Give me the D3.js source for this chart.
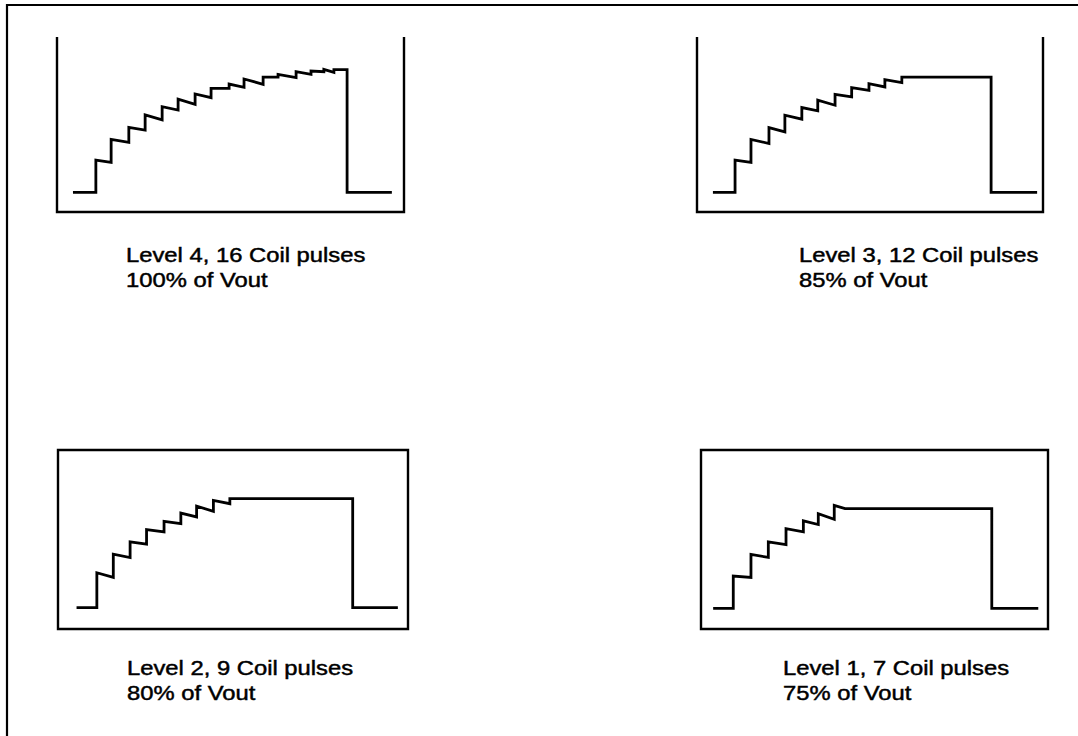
<!DOCTYPE html>
<html>
<head>
<meta charset="utf-8">
<script src="https://cdn.jsdelivr.net/npm/d3@7"></script>
<style>
  html, body { margin: 0; padding: 0; background: #fff; }
  svg { display: block; }
</style>
</head>
<body>
<div id="chart"></div>
<script>
// time axis: 0..100 across each scope frame; voltage: % of the level 4 plateau
const labels = [
  ['Level 4, 16 Coil pulses', '100% of Vout'],
  ['Level 3, 12 Coil pulses', '85% of Vout'],
  ['Level 2, 9 Coil pulses', '80% of Vout'],
  ['Level 1, 7 Coil pulses', '75% of Vout']
];

// level 4
const l4Times = [11.2, 15.6, 20.7, 25.4, 30.3, 34.9, 39.8, 44.4, 49.6, 53.9, 59.4, 63.7, 68.9, 73.2, 76.9, 79.8];
const l4Peaks = [26.3, 43.2, 53.0, 63.1, 69.8, 75.9, 80.2, 84.8, 88.3, 92.4, 94.0, 96.2, 98.4, 98.9, 100.3, 100];
const l4Troughs = [24.5, 40.8, 50.8, 59.0, 67.1, 71.8, 77.2, 84.8, 85.6, 88.1, 94.0, 93.5, 96.2, 98.4, 97.9, 100];
const l4Edges = [4.6, 83.6, 96.5];   // start, fall, end

// level 3
const l3Times = [11.0, 15.6, 20.8, 25.4, 30.3, 34.9, 39.9, 44.7, 49.7, 54.3, 59.2];
const l3Peaks = [26.3, 43.1, 52.8, 62.9, 69.1, 75.1, 79.9, 85.4, 88.6, 91.9, 94.0];
const l3Troughs = [24.4, 39.8, 49.3, 59.6, 66.4, 71.0, 77.8, 83.2, 85.9, 89.4, 94.0];
const l3Edges = [4.6, 85.0, 98.3];

// level 2
const l2Times = [11.1, 15.8, 20.6, 25.3, 30.3, 35.1, 39.6, 44.4, 49.1];
const l2Peaks = [28.5, 43.6, 53.7, 63.7, 70.5, 77.2, 82.9, 87.5, 88.9];
const l2Troughs = [24.7, 40.9, 51.8, 61.8, 68.6, 74.0, 78.6, 84.8, 88.9];
const l2Edges = [5.3, 84.2, 97.1];

// level 1
const l1Times = [9.3, 14.4, 19.4, 24.5, 29.5, 33.8, 38.4];
const l1Peaks = [26.3, 43.9, 54.2, 65.0, 71.3, 77.2, 84.0];
const l1Troughs = [25.2, 41.5, 52.0, 62.3, 68.3, 72.6, 81.3];
const l1Edges = [3.5, 83.8, 97.2];
const l1Settle = 41.5;

const panels = [
  { times: l4Times, peaks: l4Peaks, troughs: l4Troughs, edges: l4Edges, settle: null,
    frame: { x: 57, y: 37, w: 347, h: 175, top: false }, base: 192.3, text: [126, 262], label: labels[0] },
  { times: l3Times, peaks: l3Peaks, troughs: l3Troughs, edges: l3Edges, settle: null,
    frame: { x: 697, y: 37, w: 346, h: 175, top: false }, base: 192.3, text: [799, 262], label: labels[1] },
  { times: l2Times, peaks: l2Peaks, troughs: l2Troughs, edges: l2Edges, settle: null,
    frame: { x: 58, y: 450, w: 350, h: 179, top: true }, base: 607.7, text: [127, 675], label: labels[2] },
  { times: l1Times, peaks: l1Peaks, troughs: l1Troughs, edges: l1Edges, settle: l1Settle,
    frame: { x: 701, y: 450, w: 347, h: 179, top: true }, base: 608.3, text: [783, 675], label: labels[3] }
];

const width = 1078, height = 736;
const svg = d3.select('#chart').append('svg')
  .attr('width', width).attr('height', height);

// outer page border (only top and left survive in the scan)
svg.append('path')
  .attr('d', `M7,${height} L7,5 L${width},5`)
  .attr('fill', 'none').attr('stroke', '#000').attr('stroke-width', 2.2);

panels.forEach(p => {
  const f = p.frame;
  const x = d3.scaleLinear().domain([0, 100]).range([f.x, f.x + f.w]);
  const y = d3.scaleLinear().domain([0, 100]).range([p.base, p.base - 122.6]);

  const g = svg.append('g');

  // scope frame
  const fd = f.top
    ? `M${f.x},${f.y}H${f.x + f.w}V${f.y + f.h}H${f.x}Z`
    : `M${f.x},${f.y}V${f.y + f.h}H${f.x + f.w}V${f.y}`;
  g.append('path').attr('d', fd)
    .attr('fill', 'none').attr('stroke', '#000').attr('stroke-width', 2.4);

  // build the staircase waveform
  const pts = [[p.edges[0], 0]];
  const n = p.times.length;
  for (let i = 0; i < n; i++) {
    const t = p.times[i];
    pts.push([t, i === 0 ? 0 : p.troughs[i - 1]]);
    pts.push([t, p.peaks[i]]);
  }
  if (p.settle !== null) pts.push([p.settle, p.troughs[n - 1]]);
  pts.push([p.edges[1], p.troughs[n - 1]]);
  pts.push([p.edges[1], 0]);
  pts.push([p.edges[2], 0]);

  const line = d3.line().x(d => x(d[0])).y(d => y(d[1]));
  g.append('path')
    .datum(pts)
    .attr('d', line)
    .attr('fill', 'none')
    .attr('stroke', '#000')
    .attr('stroke-width', 2.8)
    .attr('stroke-linejoin', 'miter');

  // caption
  const txt = g.append('text')
    .attr('transform', `translate(${p.text[0]},${p.text[1]}) scale(1.22,1)`)
    .attr('font-family', '"Liberation Sans", Arial, Helvetica, sans-serif')
    .attr('font-size', '19.5px')
    .attr('fill', '#000')
    .attr('stroke', '#000')
    .attr('stroke-width', 0.45);
  txt.selectAll('tspan')
    .data(p.label)
    .enter()
    .append('tspan')
    .attr('x', 0)
    .attr('y', (d, i) => i * 25)
    .text(d => d);
});
</script>
</body>
</html>
